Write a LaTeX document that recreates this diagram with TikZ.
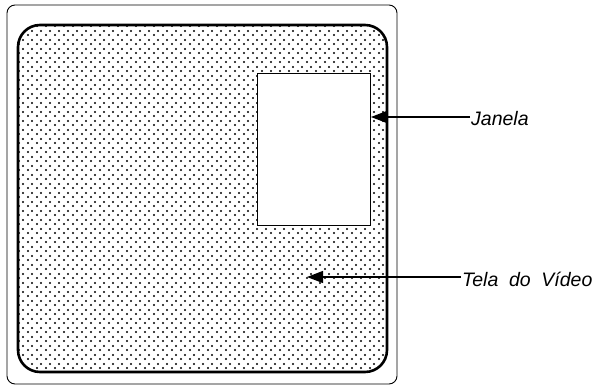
\documentclass[tikz,border=0pt]{standalone}
\usepackage{fontspec}
\setsansfont{Liberation Sans}
\usepackage{tikz}
\usetikzlibrary{arrows.meta,positioning,patterns.meta}

\tikzdeclarepattern{name=pontos,type=uncolored,
  bottom left={(0pt,0pt)},top right={(8.5pt,8.5pt)},tile size={(8.5pt,8.5pt)},
  code={\fill (2.1pt,2.1pt) circle (1.1pt); \fill (6.35pt,6.35pt) circle (1.1pt);}}

\tikzset{
  rotulo/.style={font=\fontsize{19.5}{22}\selectfont\sffamily\itshape,anchor=west,inner sep=1pt},
  seta/.style={-{Triangle[length=16pt,width=12pt]},line width=1.2pt}
}

\begin{document}
\begin{tikzpicture}[x=1pt,y=-1pt]
	\useasboundingbox (0,0) rectangle (604,387);

	% moldura do monitor
	\draw[line width=0.9pt,rounded corners=8pt](7,5) rectangle (397,384);
	% tela
	\draw[line width=2.6pt,rounded corners=22pt,pattern=pontos](18,25) rectangle (387,372);
	% janela
	\node[draw,line width=1pt,fill=white,minimum width=113pt,minimum height=152pt,inner sep=0pt,anchor=north west] (janela) at (257,73) {};

	\node[rotulo] (rjanela) at (470,119) {Janela};
	\node[rotulo] (rtela) at (461,279) {Tela\hspace{0.55em}do\hspace{0.55em}V\'ideo};
	\coordinate (ptela) at (307,277);

	\draw[seta](rjanela.west |- 0,117)--(janela.east |- 0,117);
	\draw[seta](rtela.west |- ptela)--(ptela);
\end{tikzpicture}
\end{document}
